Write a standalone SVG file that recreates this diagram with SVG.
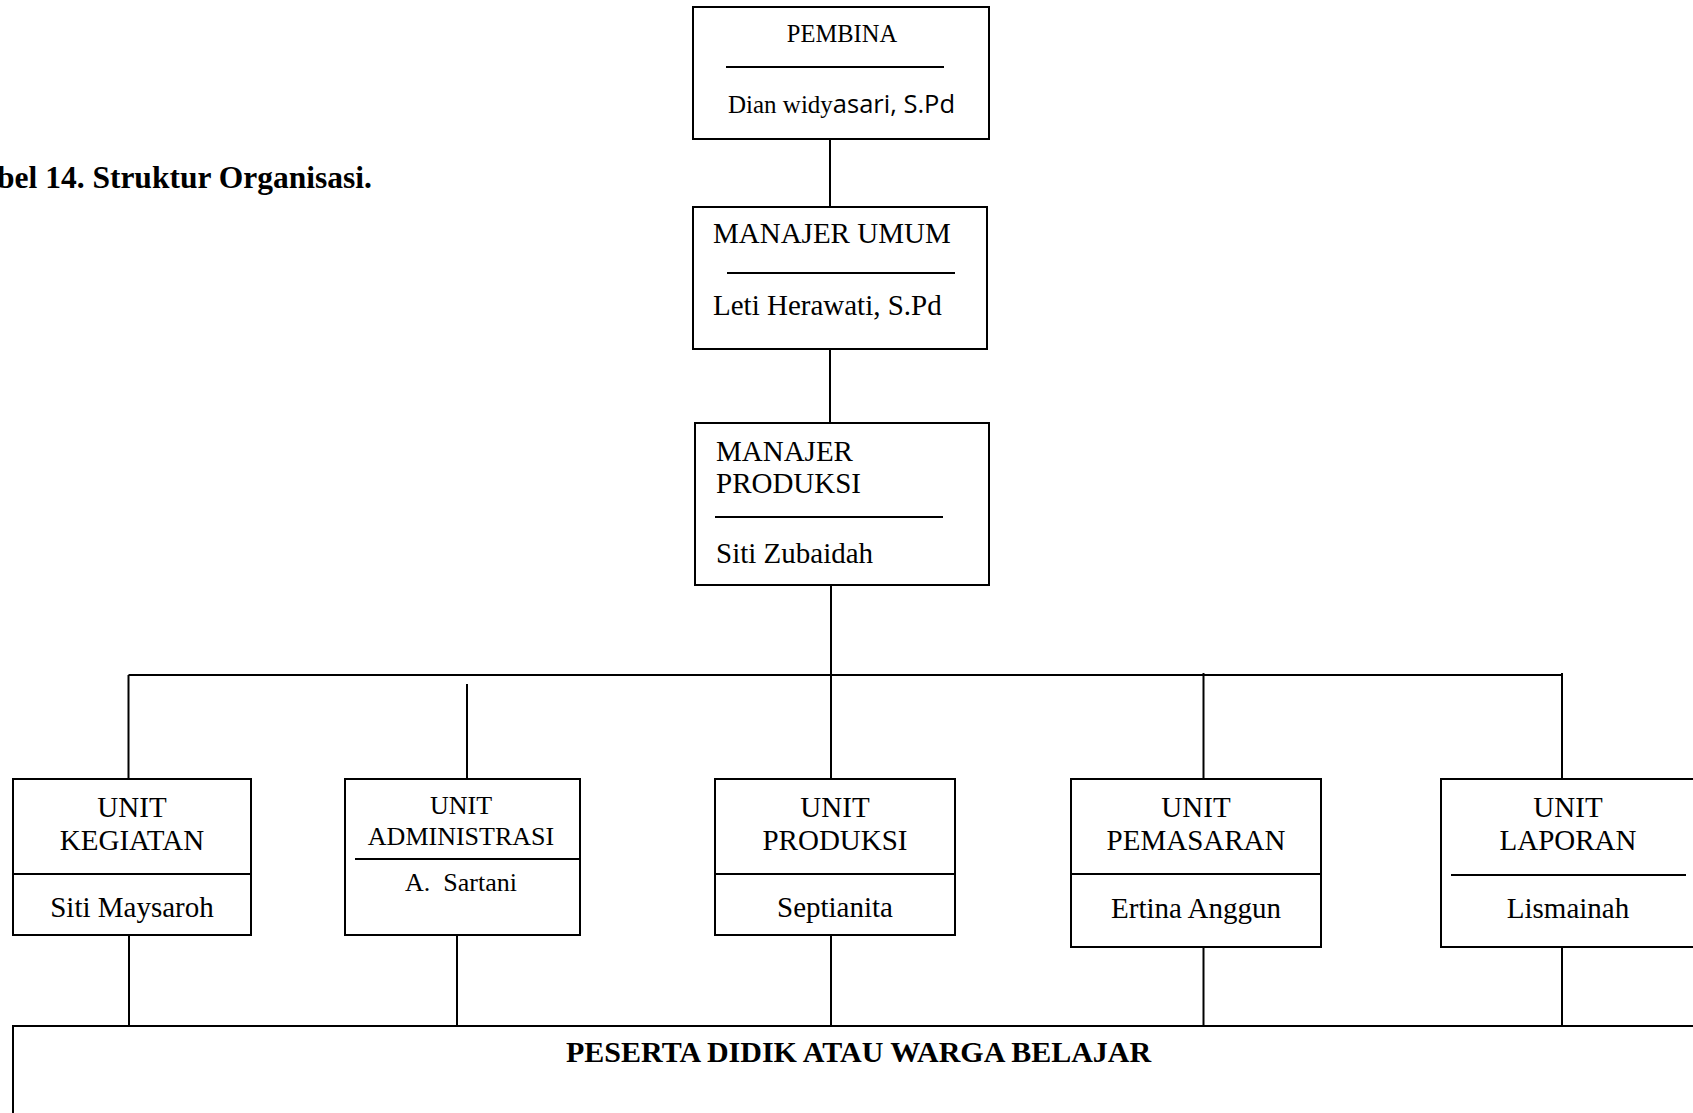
<svg xmlns="http://www.w3.org/2000/svg" width="1693" height="1113" viewBox="0 0 1693 1113">
<style>
.box{fill:#fff;stroke:#000;stroke-width:2}
.ln{stroke:#000;stroke-width:2;fill:none}
text{font-family:"Liberation Serif","Times New Roman",serif;fill:#000;font-size:29px}
.c{text-anchor:middle}
.s{font-size:26px}
.b{font-weight:bold}
</style>
<rect width="1693" height="1113" fill="#fff"/>
<text class="b" x="-3" y="188" style="font-size:31.5px">bel 14. Struktur Organisasi.</text>
<g id="connectors">
<line class="ln" x1="830" y1="140" x2="830" y2="207"/>
<line class="ln" x1="830" y1="349" x2="830" y2="423"/>
<line class="ln" x1="831" y1="585" x2="831" y2="779"/>
<line class="ln" x1="128.5" y1="675" x2="1562" y2="675"/>
<line class="ln" x1="128.5" y1="675" x2="128.5" y2="779"/>
<line class="ln" x1="467" y1="684" x2="467" y2="779"/>
<line class="ln" x1="1203.5" y1="673" x2="1203.5" y2="779"/>
<line class="ln" x1="1562" y1="673" x2="1562" y2="779"/>
<line class="ln" x1="129" y1="935" x2="129" y2="1026"/>
<line class="ln" x1="457" y1="935" x2="457" y2="1026"/>
<line class="ln" x1="831" y1="935" x2="831" y2="1026"/>
<line class="ln" x1="1203.5" y1="947" x2="1203.5" y2="1026"/>
<line class="ln" x1="1562" y1="947" x2="1562" y2="1026"/>
</g>
<g id="pembina">
<rect class="box" x="693" y="7" width="296" height="132"/>
<line class="ln" x1="726" y1="67" x2="944" y2="67"/>
<text class="c" x="842" y="42" style="font-size:24.5px">PEMBINA</text>
<text x="728" y="113" style="font-size:25px">Dian widy<tspan style="font-family:'Open Sans','Liberation Sans',sans-serif;font-size:25.5px">asari, S.Pd</tspan></text>
</g>
<g id="manajer-umum">
<rect class="box" x="693" y="207" width="294" height="142"/>
<line class="ln" x1="727" y1="273" x2="955" y2="273"/>
<text x="713" y="243">MANAJER UMUM</text>
<text x="713" y="315">Leti Herawati, S.Pd</text>
</g>
<g id="manajer-produksi">
<rect class="box" x="695" y="423" width="294" height="162"/>
<line class="ln" x1="715" y1="517" x2="943" y2="517"/>
<text x="716" y="461">MANAJER</text>
<text x="716" y="493">PRODUKSI</text>
<text x="716" y="563">Siti Zubaidah</text>
</g>
<g id="unit-kegiatan">
<rect class="box" x="13" y="779" width="238" height="156"/>
<line class="ln" x1="13" y1="874" x2="251" y2="874"/>
<text class="c" x="132" y="817">UNIT</text>
<text class="c" x="132" y="850">KEGIATAN</text>
<text class="c" x="132" y="917">Siti Maysaroh</text>
</g>
<g id="unit-administrasi">
<rect class="box" x="345" y="779" width="235" height="156"/>
<line class="ln" x1="355" y1="859" x2="580" y2="859"/>
<text class="c s" x="461" y="814">UNIT</text>
<text class="c s" x="461" y="845">ADMINISTRASI</text>
<text class="c s" x="461" y="891" xml:space="preserve">A.  Sartani</text>
</g>
<g id="unit-produksi">
<rect class="box" x="715" y="779" width="240" height="156"/>
<line class="ln" x1="715" y1="874" x2="955" y2="874"/>
<text class="c" x="835" y="817">UNIT</text>
<text class="c" x="835" y="850">PRODUKSI</text>
<text class="c" x="835" y="917">Septianita</text>
</g>
<g id="unit-pemasaran">
<rect class="box" x="1071" y="779" width="250" height="168"/>
<line class="ln" x1="1071" y1="874" x2="1321" y2="874"/>
<text class="c" x="1196" y="817">UNIT</text>
<text class="c" x="1196" y="850">PEMASARAN</text>
<text class="c" x="1196" y="918">Ertina Anggun</text>
</g>
<g id="unit-laporan">
<rect class="box" x="1441" y="779" width="270" height="168"/>
<line class="ln" x1="1451" y1="875" x2="1686" y2="875"/>
<text class="c" x="1568" y="817">UNIT</text>
<text class="c" x="1568" y="850">LAPORAN</text>
<text class="c" x="1568" y="918">Lismainah</text>
</g>
<g id="peserta">
<rect class="box" x="13" y="1026" width="1700" height="200"/>
<text class="b" x="566" y="1062" style="font-size:30px">PESERTA DIDIK ATAU WARGA BELAJAR</text>
</g>
</svg>
